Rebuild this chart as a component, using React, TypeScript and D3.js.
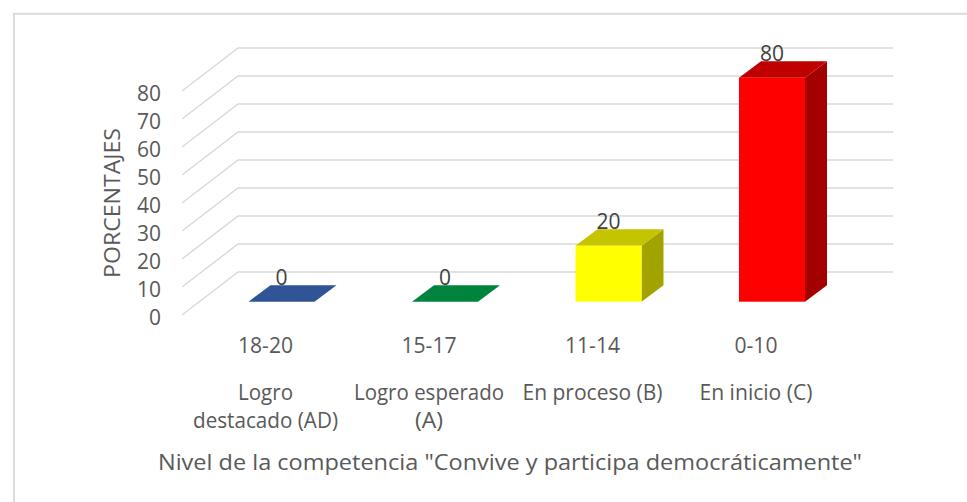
import React from "react";
import * as d3 from "d3";

const categories = ["18-20", "15-17", "11-14", "0-10"];
const levels = [["Logro", "destacado (AD)"], ["Logro esperado", "(A)"], ["En proceso (B)"], ["En inicio (C)"]];
const values = [0, 0, 20, 80];
const frontColors = ["#2f5597", "#00843d", "#ffff00", "#ff0000"];
const topColors = ["#2f5597", "#00843d", "#c4c400", "#bf0000"];
const sideColors = ["#2f5597", "#00843d", "#a3a300", "#a30000"];
const ticks = [0, 10, 20, 30, 40, 50, 60, 70, 80];
const yLabel = "PORCENTAJES";
const xTitle = 'Nivel de la competencia "Convive y participa democráticamente"';

const W = 967, H = 502;
const font = "'Open Sans', sans-serif";
const textColor = "#595959";

// rendered widths that stand in for the original font's metrics
const textWidths: Record<string, number> = {
  "Logro": 55, "destacado (AD)": 145, "Logro esperado": 150, "(A)": 28,
  "En proceso (B)": 140, "En inicio (C)": 113,
};

function Squeezed({ x, y, size = 21, width, fill = textColor, children, rotate }: any) {
  return (
    <text x={x} y={y} fontSize={size} fontFamily={font} fill={fill} textAnchor="middle"
      textLength={width} lengthAdjust="spacingAndGlyphs"
      transform={rotate ? `rotate(${rotate} ${x} ${y})` : undefined}>{children}</text>
  );
}

export default function App() {
  const barW = 66;
  const y = d3.scaleLinear().domain([0, 80]).range([301.7, 77.7]);
  const step = d3.scalePoint<string>().domain(categories).range([281.5, 772]);
  const depthX = 22, depthY = 16.5;
  const backDX = 56, backDY = 43;
  const y0 = d3.scaleLinear().domain([0, 80]).range([315, 91]);
  const poly = (pts: [number, number][]) => d3.line()(pts) + "Z";

  return (
    <svg width={W} height={H} style={{ position: "absolute", left: 0, top: 0, background: "#fff" }}>
      <path d="M14 502V13.75H967" fill="none" stroke="#d9d9d9" strokeWidth={1.8} />
      {ticks.map((t) => (
        <g key={t}>
          <path d={d3.line()([[182, y0(t)], [182 + backDX, y0(t) - backDY], [893, y0(t) - backDY]])!}
            fill="none" stroke="#d9d9d9" strokeWidth={1.5} />
          <text x={161} y={y0(t) + 10} textAnchor="end" fontSize={21} fontFamily={font} fill={textColor}
            textLength={t === 0 ? 12 : 24} lengthAdjust="spacingAndGlyphs">{t}</text>
        </g>
      ))}
      {categories.map((c, i) => {
        const cx = step(c)!;
        const l = cx - barW / 2, r = cx + barW / 2, b = y(0), t = y(values[i]);
        const lx = cx - 16;
        return (
          <g key={c}>
            {values[i] > 0 && <path d={poly([[r, b], [r + depthX, b - depthY], [r + depthX, t - depthY], [r, t]])} fill={sideColors[i]} />}
            <path d={poly([[l, t], [l + depthX, t - depthY], [r + depthX, t - depthY], [r, t]])} fill={topColors[i]} />
            {values[i] > 0 && <rect x={l} y={t} width={barW} height={b - t} fill={frontColors[i]} />}
            <Squeezed x={cx} y={t - depthY} width={values[i] > 0 ? 24 : 12} fill="#404040">{values[i]}</Squeezed>
            <Squeezed x={lx} y={353} width={c.length > 4 ? 55 : 43}>{c}</Squeezed>
            {levels[i].map((s, j) => (
              <Squeezed key={s} x={lx} y={400 + j * 28} width={textWidths[s]}>{s}</Squeezed>
            ))}
          </g>
        );
      })}
      <Squeezed x={120} y={203} width={150} rotate={-90}>{yLabel}</Squeezed>
      <Squeezed x={510} y={470} size={22} width={704}>{xTitle}</Squeezed>
    </svg>
  );
}
